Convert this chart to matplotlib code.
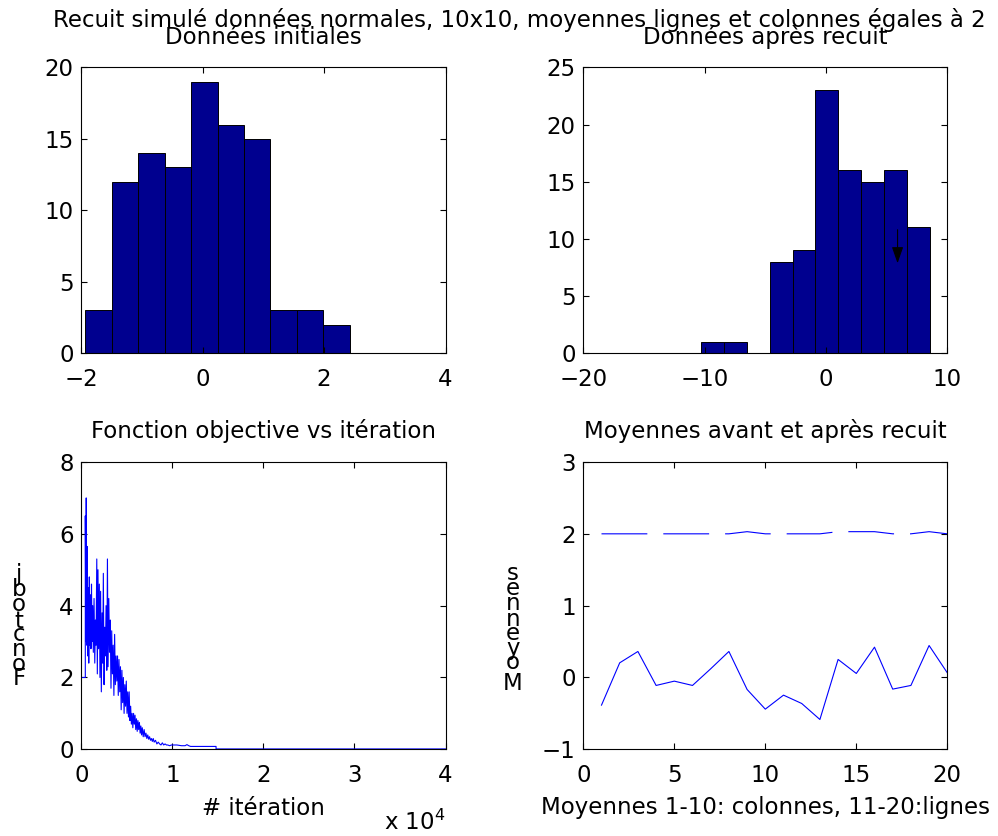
import numpy as np
import matplotlib
matplotlib.use('Agg')
import matplotlib.pyplot as plt
from matplotlib.font_manager import FontProperties, findfont, get_font

FONT = 'DejaVu Sans'
FS = 16.5
plt.rcParams['font.family'] = [FONT]
plt.rcParams['mathtext.fontset'] = 'dejavusans'
plt.rcParams['lines.scale_dashes'] = False

# ---------------- texts ----------------
suptitle_text = "Recuit simulé données normales, 10x10, moyennes lignes et colonnes égales à 2"
title_tl = "Données initiales"
title_tr = "Données après recuit"
title_bl = "Fonction objective vs itération"
title_br = "Moyennes avant et après recuit"
xlabel_bl = "# itération"
ylabel_bl = "Fonct obj"
xlabel_br = "Moyennes 1-10: colonnes, 11-20:lignes"
ylabel_br = "Moyennes"
offset_bl = "x 10$^4$"

# ---------------- data ----------------
hist_init_range = (-1.934, 2.423)
hist_init_counts = [3, 12, 14, 13, 19, 16, 15, 3, 3, 2]
hist_after_range = (-10.27, 8.54)
hist_after_counts = [1, 1, 0, 8, 9, 23, 16, 15, 16, 11]

arrow_x = 5.9
arrow_y_from = 10.8
arrow_y_to = 7.87

obj_iter = [0, 0, 0, 440, 440, 500, 540, 600, 650, 700, 760, 820, 880, 940, 1000,
            1060, 1120, 1180, 1250, 1320, 1400, 1480, 1550, 1620, 1700, 1760, 1830,
            1900, 1980, 2050, 2120, 2200, 2280, 2360, 2420, 2500, 2580, 2650, 2720,
            2800, 2870, 2940, 3020, 3100, 3180, 3260, 3340, 3420, 3500, 3580, 3660,
            3740, 3820, 3900, 3980, 4060, 4140, 4220, 4300, 4380, 4460, 4540, 4620,
            4700, 4780, 4860, 4940, 5020, 5100, 5180, 5260, 5340, 5420, 5500, 5580,
            5660, 5740, 5820, 5900, 5980, 6060, 6140, 6220, 6300, 6380, 6460, 6540,
            6620, 6700, 6800, 6900, 7000, 7100, 7200, 7300, 7400, 7500, 7600, 7700,
            7800, 7900, 8000, 8150, 8300, 8450, 8600, 8750, 8900, 9050, 9200, 9350,
            9500, 9700, 9900, 10100, 10500, 11000, 11400, 11600, 11800, 12000, 13000,
            14800, 14800, 40000]
obj_value = [0.6, 7.6, 2.0, 2.0, 6.5, 3.0, 7.0, 2.9, 5.65, 2.6, 4.5, 2.4, 4.8, 2.9, 4.3,
             2.8, 4.6, 3.0, 4.0, 2.7, 4.2, 2.4, 3.6, 2.9, 5.3, 2.1, 5.0,
             2.8, 4.6, 2.0, 4.4, 1.6, 3.8, 2.4, 4.9, 1.8, 3.4, 2.6, 4.0,
             2.2, 5.3, 2.3, 4.2, 2.7, 3.6, 1.7, 3.3, 2.1, 2.9, 1.5, 3.2,
             1.8, 2.6, 1.9, 2.6, 1.5, 2.5, 1.6, 2.3, 1.1, 2.2, 1.3, 2.0,
             1.0, 1.8, 1.2, 1.9, 1.0, 1.6, 0.9, 1.6, 0.8, 1.2, 0.7, 1.0,
             0.6, 1.0, 0.7, 0.95, 0.55, 0.85, 0.5, 0.8, 0.55, 0.75, 0.45, 0.65,
             0.4, 0.6, 0.35, 0.55, 0.35, 0.45, 0.3, 0.4, 0.28, 0.35, 0.25, 0.3,
             0.22, 0.3, 0.2, 0.25, 0.15, 0.2, 0.15, 0.12, 0.18, 0.12, 0.15, 0.12,
             0.12, 0.1, 0.12, 0.12, 0.12, 0.1, 0.1, 0.13, 0.1, 0.08, 0.08,
             0.08, 0.01, 0.01]
obj_xticks = [0, 10000, 20000, 30000, 40000]
obj_xticklabels = ['0', '1', '2', '3', '4']

mean_index = list(range(1, 21))
means_before = [-0.385, 0.204, 0.362, -0.111, -0.051, -0.111, 0.121, 0.362, -0.167, -0.441,
                -0.246, -0.362, -0.585, 0.251, 0.056, 0.422, -0.162, -0.111, 0.445, 0.065]
means_after = [2.0, 2.0, 2.0, 2.0, 2.0, 2.0, 2.0, 2.0, 2.03, 2.0,
               2.0, 2.0, 2.0, 2.03, 2.03, 2.03, 2.0, 2.0, 2.03, 2.0]

# ---------------- figure ----------------
W, H = 998, 836
fig = plt.figure(figsize=(W / 100, H / 100), dpi=100)


def px_axes(l, t, r, b):
    return fig.add_axes([l / W, 1 - b / H, (r - l) / W, (b - t) / H])


ax_tl = px_axes(81.3, 67.3, 445.5, 353.3)
ax_tr = px_axes(583.3, 67.3, 947.3, 353.3)
ax_bl = px_axes(81.3, 462.0, 445.5, 749.3)
ax_br = px_axes(583.3, 462.0, 947.3, 749.3)

BAR = '#00008F'
BLUE = '#0000FF'


def style(ax):
    for s in ax.spines.values():
        s.set_linewidth(0.8)
        s.set_color('black')
    ax.tick_params(axis='both', which='both', direction='in', top=True, right=True,
                   length=4, width=0.8, labelsize=FS, colors='black')
    ax.tick_params(axis='x', pad=10.5)
    ax.tick_params(axis='y', pad=5.5)
    ax.set_facecolor('white')


for ax in (ax_tl, ax_tr, ax_bl, ax_br):
    style(ax)

# top-left histogram
edges1 = np.linspace(hist_init_range[0], hist_init_range[1], len(hist_init_counts) + 1)
ax_tl.hist(edges1[:-1], bins=edges1, weights=hist_init_counts, color=BAR,
           edgecolor='black', linewidth=0.7)
ax_tl.set_xlim(-2, 4)
ax_tl.set_ylim(0, 20)
ax_tl.set_xticks([-2, 0, 2, 4])
ax_tl.set_yticks([0, 5, 10, 15, 20])
ax_tl.set_title(title_tl, fontsize=FS, pad=16.6)

# top-right histogram
edges2 = np.linspace(hist_after_range[0], hist_after_range[1], len(hist_after_counts) + 1)
ax_tr.hist(edges2[:-1], bins=edges2, weights=hist_after_counts, color=BAR,
           edgecolor='black', linewidth=0.7)
ax_tr.set_xlim(-20, 10)
ax_tr.set_ylim(0, 25)
ax_tr.set_xticks([-20, -10, 0, 10])
ax_tr.set_yticks([0, 5, 10, 15, 20, 25])
ax_tr.set_title(title_tr, fontsize=FS, pad=16.6)
ax_tr.annotate('', xy=(arrow_x, arrow_y_to), xytext=(arrow_x, arrow_y_from),
               arrowprops=dict(arrowstyle='-|>,head_length=1.0,head_width=0.35',
                               color='black', lw=0.8, shrinkA=0, shrinkB=0))

# bottom-left objective
ax_bl.plot(obj_iter, obj_value, color=BLUE, lw=0.8)
ax_bl.set_xlim(0, 40000)
ax_bl.set_ylim(0, 8)
ax_bl.set_xticks(obj_xticks)
ax_bl.set_xticklabels(obj_xticklabels)
ax_bl.set_yticks([0, 2, 4, 6, 8])
ax_bl.set_title(title_bl, fontsize=FS, pad=17.2)
ax_bl.set_xlabel(xlabel_bl, fontsize=FS)
ax_bl.xaxis.label.set_va('baseline')
ax_bl.xaxis.set_label_coords(0.5, -(815 - 749.3) / 287.3)

# bottom-right means
ax_br.plot(mean_index, means_before, color=BLUE, lw=0.8)
ln, = ax_br.plot(mean_index, means_after, color=BLUE, lw=0.8)
ln.set_dashes([33, 11.5])
ax_br.set_xlim(0, 20)
ax_br.set_ylim(-1, 3)
ax_br.set_xticks([0, 5, 10, 15, 20])
ax_br.set_yticks([-1, 0, 1, 2, 3])
ax_br.set_title(title_br, fontsize=FS, pad=17.2)
ax_br.set_xlabel(xlabel_br, fontsize=FS)
ax_br.xaxis.label.set_va('baseline')
ax_br.xaxis.set_label_coords(0.5, -(814 - 749.3) / 287.3)

# super title
fig.text(519 / W, 1 - 27 / H, suptitle_text, ha='center', va='baseline', fontsize=FS)

# offset text "x 10^4"
fig.text(445 / W, 1 - 830 / H, offset_bl, ha='right', va='baseline', fontsize=FS)

# stacked upright y labels (glyphs laid along a vertical baseline)
fp = FontProperties(family=FONT, size=FS)
font = get_font(findfont(fp))
font.set_size(FS, 100)


def advance(ch):
    g = font.load_char(ord(ch))
    return g.linearHoriAdvance / 65536.0


def stacked_label(text, x_px, base_px, spacing=1.05):
    y = base_px
    for ch in text:
        if ch != ' ':
            fig.text(x_px / W, 1 - y / H, ch, ha='center', va='baseline', fontsize=FS)
        y -= advance(ch) * spacing


stacked_label(ylabel_bl, 19, 685)
stacked_label(ylabel_br, 513, 690)

fig.savefig('out.png', dpi=100)
